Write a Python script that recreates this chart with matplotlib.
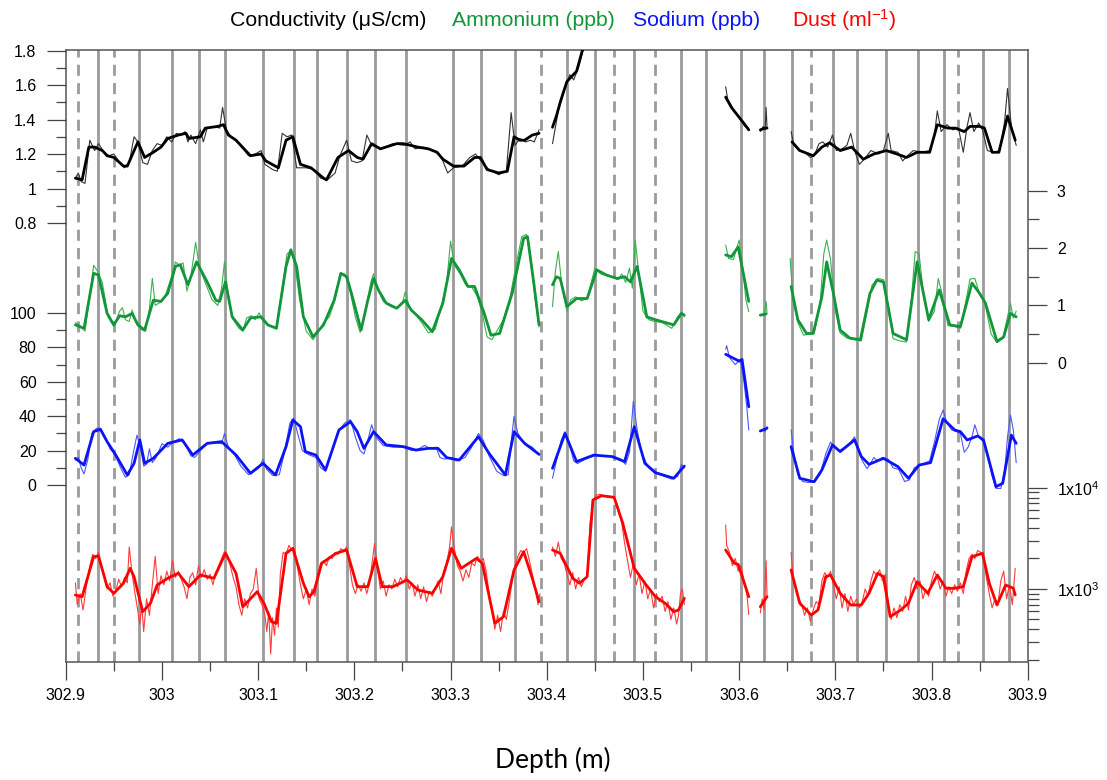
import numpy as np
import matplotlib
matplotlib.use("Agg")
import matplotlib.pyplot as plt
from matplotlib.ticker import NullFormatter

plt.rcParams['font.family'] = ['Liberation Sans', 'DejaVu Sans']
plt.rcParams['mathtext.fontset'] = 'custom'
plt.rcParams['mathtext.rm'] = 'Liberation Sans'
plt.rcParams['mathtext.it'] = 'Liberation Sans:italic'
plt.rcParams['lines.solid_joinstyle'] = 'round'
plt.rcParams['lines.solid_capstyle'] = 'round'

nan = np.nan

# annual layer markers (depth, m)
solid_lines = [302.934, 302.976, 303.010, 303.038, 303.066, 303.105, 303.137, 303.161,
               303.192, 303.221, 303.254, 303.303, 303.332, 303.367, 303.421, 303.450,
               303.491, 303.540, 303.566, 303.602, 303.626, 303.655, 303.698, 303.723,
               303.753, 303.786, 303.813, 303.853, 303.881]
dashed_lines = [302.913, 302.950, 303.394, 303.470, 303.513, 303.675, 303.828]

# Conductivity (uS/cm): smoothed and raw
cond_smooth = [
    (302.910, 1.06), (302.917, 1.05), (302.924, 1.24), (302.930, 1.24), (302.938, 1.22),
    (302.943, 1.19), (302.950, 1.18), (302.960, 1.13), (302.964, 1.13), (302.975, 1.27),
    (302.982, 1.18), (302.991, 1.21), (302.999, 1.24), (303.006, 1.29), (303.017, 1.31),
    (303.025, 1.32), (303.028, 1.29), (303.040, 1.30), (303.045, 1.35), (303.058, 1.36),
    (303.064, 1.37), (303.069, 1.31), (303.077, 1.28), (303.092, 1.19), (303.103, 1.20),
    (303.108, 1.16), (303.121, 1.12), (303.129, 1.28), (303.136, 1.30), (303.144, 1.14),
    (303.155, 1.12), (303.168, 1.06), (303.171, 1.05), (303.183, 1.18), (303.194, 1.22),
    (303.203, 1.18), (303.209, 1.17), (303.218, 1.26), (303.227, 1.23), (303.244, 1.26),
    (303.251, 1.26), (303.266, 1.24), (303.277, 1.23), (303.286, 1.21), (303.292, 1.17),
    (303.303, 1.13), (303.314, 1.13), (303.325, 1.18), (303.331, 1.18), (303.338, 1.11),
    (303.350, 1.09), (303.359, 1.10), (303.366, 1.30), (303.372, 1.28), (303.377, 1.28),
    (303.385, 1.31), (303.392, 1.32), (303.400, nan),
    (303.406, 1.355), (303.410, 1.42), (303.414, 1.50), (303.418, 1.57), (303.421, 1.62),
    (303.431, 1.68), (303.437, 1.80), (303.442, 1.90), (303.446, 1.98), (303.560, nan),
    (303.586, 1.53), (303.592, 1.47), (303.599, 1.42), (303.606, 1.37), (303.610, 1.34),
    (303.616, nan), (303.622, 1.34), (303.627, 1.35), (303.629, 1.35), (303.640, nan),
    (303.655, 1.27), (303.663, 1.22), (303.677, 1.19), (303.686, 1.24), (303.694, 1.265),
    (303.705, 1.22), (303.717, 1.24), (303.729, 1.17), (303.740, 1.20), (303.753, 1.22),
    (303.764, 1.20), (303.774, 1.18), (303.785, 1.21), (303.798, 1.21), (303.806, 1.37),
    (303.817, 1.35), (303.825, 1.35), (303.834, 1.33), (303.840, 1.36), (303.850, 1.36),
    (303.855, 1.35), (303.863, 1.21), (303.870, 1.21), (303.879, 1.42), (303.887, 1.28)]
cond_raw = [
    (302.910, 1.06), (302.913, 1.09), (302.916, 1.04), (302.920, 1.03), (302.925, 1.28),
    (302.930, 1.22), (302.934, 1.26), (302.940, 1.21), (302.945, 1.19), (302.950, 1.20),
    (302.955, 1.16), (302.961, 1.12), (302.966, 1.15), (302.971, 1.30), (302.975, 1.27),
    (302.980, 1.15), (302.985, 1.14), (302.990, 1.22), (302.995, 1.26), (303.000, 1.25),
    (303.005, 1.30), (303.010, 1.27), (303.015, 1.32), (303.020, 1.31), (303.024, 1.33),
    (303.027, 1.27), (303.030, 1.31), (303.035, 1.26), (303.040, 1.34), (303.043, 1.27),
    (303.047, 1.35), (303.055, 1.36), (303.060, 1.35), (303.063, 1.47), (303.067, 1.34),
    (303.072, 1.30), (303.080, 1.26), (303.090, 1.19), (303.097, 1.20), (303.103, 1.22),
    (303.107, 1.14), (303.115, 1.11), (303.120, 1.10), (303.125, 1.32), (303.130, 1.30),
    (303.135, 1.31), (303.140, 1.12), (303.150, 1.12), (303.158, 1.11), (303.165, 1.06),
    (303.172, 1.05), (303.180, 1.09), (303.185, 1.19), (303.192, 1.28), (303.197, 1.16),
    (303.203, 1.15), (303.208, 1.16), (303.213, 1.31), (303.218, 1.25), (303.228, 1.23),
    (303.240, 1.26), (303.252, 1.25), (303.258, 1.27), (303.263, 1.23), (303.272, 1.24),
    (303.282, 1.22), (303.288, 1.20), (303.292, 1.16), (303.297, 1.09), (303.303, 1.12),
    (303.312, 1.13), (303.320, 1.18), (303.326, 1.20), (303.333, 1.15), (303.340, 1.11),
    (303.350, 1.08), (303.358, 1.10), (303.363, 1.44), (303.367, 1.25), (303.372, 1.29),
    (303.378, 1.27), (303.383, 1.28), (303.387, 1.27), (303.392, 1.34), (303.400, nan),
    (303.406, 1.26), (303.412, 1.45), (303.420, 1.60), (303.424, 1.66), (303.428, 1.63),
    (303.433, 1.70), (303.440, 1.85), (303.445, 1.96), (303.560, nan),
    (303.586, 1.59), (303.588, 1.52), (303.594, 1.46), (303.600, 1.41), (303.606, 1.36),
    (303.610, 1.35), (303.616, nan), (303.622, 1.33), (303.625, 1.36), (303.627, 1.34),
    (303.628, 1.47), (303.629, 1.35), (303.640, nan),
    (303.654, 1.33), (303.657, 1.25), (303.662, 1.22), (303.668, 1.21), (303.674, 1.18),
    (303.678, 1.19), (303.683, 1.26), (303.687, 1.27), (303.692, 1.24), (303.697, 1.31),
    (303.701, 1.22), (303.707, 1.23), (303.712, 1.25), (303.716, 1.32), (303.720, 1.22),
    (303.725, 1.14), (303.730, 1.17), (303.737, 1.22), (303.745, 1.20), (303.750, 1.22),
    (303.755, 1.32), (303.758, 1.22), (303.765, 1.21), (303.770, 1.16), (303.775, 1.19),
    (303.781, 1.22), (303.790, 1.21), (303.798, 1.22), (303.803, 1.31), (303.806, 1.45),
    (303.810, 1.33), (303.816, 1.37), (303.822, 1.34), (303.828, 1.35), (303.833, 1.21),
    (303.837, 1.36), (303.840, 1.44), (303.844, 1.33), (303.849, 1.38), (303.853, 1.34),
    (303.858, 1.22), (303.865, 1.21), (303.871, 1.22), (303.876, 1.39), (303.879, 1.58),
    (303.883, 1.36), (303.888, 1.25)]

# Ammonium (right axis 0-3)
amm_smooth = [
    (302.910, 0.66), (302.919, 0.60), (302.929, 1.56), (302.934, 1.53), (302.943, 0.86),
    (302.950, 0.66), (302.956, 0.82), (302.962, 0.80), (302.969, 0.86), (302.975, 0.66),
    (302.982, 0.57), (302.991, 1.09), (302.999, 1.07), (303.006, 1.21), (303.014, 1.68),
    (303.019, 1.71), (303.027, 1.36), (303.036, 1.76), (303.047, 1.41), (303.056, 1.09),
    (303.060, 1.07), (303.066, 1.41), (303.073, 0.80), (303.084, 0.57), (303.092, 0.78),
    (303.103, 0.80), (303.110, 0.66), (303.119, 0.60), (303.129, 1.68), (303.134, 1.97),
    (303.140, 1.68), (303.147, 0.80), (303.157, 0.45), (303.168, 0.66), (303.179, 1.09),
    (303.186, 1.56), (303.192, 1.50), (303.197, 1.21), (303.207, 0.57), (303.214, 1.09),
    (303.220, 1.47), (303.225, 1.27), (303.233, 1.04), (303.244, 0.95), (303.253, 1.09),
    (303.259, 0.92), (303.270, 0.75), (303.281, 0.54), (303.292, 1.04), (303.301, 1.82),
    (303.309, 1.62), (303.318, 1.33), (303.325, 1.33), (303.335, 0.86), (303.342, 0.48),
    (303.351, 0.51), (303.364, 1.21), (303.376, 2.17), (303.380, 2.20), (303.387, 1.33),
    (303.392, 0.66), (303.400, nan),
    (303.406, 1.36), (303.410, 1.50), (303.414, 1.47), (303.421, 0.98), (303.431, 1.12),
    (303.442, 1.12), (303.452, 1.62), (303.462, 1.53), (303.473, 1.47), (303.481, 1.50),
    (303.487, 1.41), (303.494, 1.68), (303.504, 0.80), (303.513, 0.75), (303.532, 0.66),
    (303.540, 0.86), (303.543, 0.83), (303.560, nan),
    (303.586, 1.88), (303.592, 1.85), (303.599, 2.02), (303.610, 1.07), (303.616, nan),
    (303.622, 0.83), (303.628, 0.85), (303.640, nan),
    (303.654, 1.33), (303.661, 0.75), (303.670, 0.51), (303.677, 0.51), (303.686, 1.15),
    (303.691, 1.76), (303.698, 1.21), (303.705, 0.57), (303.715, 0.43), (303.726, 0.40),
    (303.736, 1.21), (303.743, 1.44), (303.750, 1.41), (303.760, 0.51), (303.774, 0.40),
    (303.785, 1.76), (303.797, 0.75), (303.808, 1.27), (303.819, 0.66), (303.830, 0.63),
    (303.842, 1.39), (303.850, 1.21), (303.856, 1.04), (303.868, 0.37), (303.875, 0.45),
    (303.882, 0.86), (303.888, 0.80)]
amm_raw = [
    (302.910, 0.70), (302.914, 0.66), (302.920, 0.55), (302.926, 1.30), (302.929, 1.70),
    (302.933, 1.60), (302.938, 1.40), (302.944, 0.80), (302.950, 0.63), (302.956, 0.90),
    (302.959, 0.96), (302.962, 0.75), (302.966, 0.72), (302.969, 0.92), (302.973, 0.70),
    (302.978, 0.58), (302.983, 0.55), (302.987, 0.95), (302.990, 1.47), (302.993, 1.00),
    (302.998, 1.05), (303.003, 1.15), (303.010, 1.50), (303.014, 1.76), (303.018, 1.70),
    (303.022, 1.74), (303.026, 1.25), (303.030, 1.50), (303.035, 2.10), (303.039, 1.65),
    (303.045, 1.40), (303.052, 1.10), (303.058, 1.00), (303.062, 1.30), (303.065, 1.76),
    (303.068, 1.30), (303.073, 0.78), (303.080, 0.60), (303.084, 0.55), (303.088, 0.78),
    (303.093, 0.82), (303.097, 0.75), (303.101, 0.87), (303.106, 0.70), (303.113, 0.64),
    (303.119, 0.62), (303.125, 1.30), (303.130, 1.90), (303.134, 1.95), (303.138, 1.75),
    (303.143, 1.10), (303.150, 0.55), (303.157, 0.40), (303.163, 0.55), (303.168, 0.70),
    (303.174, 0.80), (303.180, 1.10), (303.185, 1.55), (303.190, 1.55), (303.195, 1.30),
    (303.201, 0.80), (303.206, 0.53), (303.212, 0.95), (303.217, 1.40), (303.220, 1.55),
    (303.224, 1.30), (303.230, 1.07), (303.238, 0.98), (303.244, 0.95), (303.250, 1.05),
    (303.253, 1.24), (303.257, 0.98), (303.263, 0.85), (303.270, 0.70), (303.277, 0.52),
    (303.284, 0.58), (303.290, 0.95), (303.296, 1.40), (303.300, 2.12), (303.304, 1.70),
    (303.310, 1.55), (303.316, 1.35), (303.322, 1.32), (303.328, 1.15), (303.333, 0.85),
    (303.338, 0.45), (303.343, 0.40), (303.348, 0.55), (303.355, 0.75), (303.362, 1.15),
    (303.368, 1.70), (303.374, 2.20), (303.379, 2.24), (303.383, 1.90), (303.388, 1.10),
    (303.392, 0.62), (303.400, nan),
    (303.406, 0.98), (303.409, 1.60), (303.412, 1.94), (303.416, 1.30), (303.421, 0.90),
    (303.425, 1.10), (303.430, 1.15), (303.436, 1.08), (303.442, 1.12), (303.450, 1.65),
    (303.456, 1.55), (303.462, 1.52), (303.468, 1.50), (303.474, 1.45), (303.478, 1.55),
    (303.482, 1.40), (303.486, 1.65), (303.489, 1.30), (303.492, 2.14), (303.496, 1.50),
    (303.500, 0.90), (303.506, 0.75), (303.512, 0.72), (303.520, 0.70), (303.530, 0.60),
    (303.536, 0.80), (303.540, 0.88), (303.543, 0.80), (303.560, nan),
    (303.586, 2.05), (303.589, 1.82), (303.594, 1.80), (303.600, 2.14), (303.604, 1.60),
    (303.607, 1.10), (303.610, 0.89), (303.616, nan),
    (303.622, 0.82), (303.626, 0.83), (303.628, 1.07), (303.629, 0.86), (303.640, nan),
    (303.653, 1.82), (303.656, 1.10), (303.661, 0.70), (303.667, 0.48), (303.673, 0.50),
    (303.678, 0.52), (303.684, 1.00), (303.688, 1.90), (303.691, 2.14), (303.695, 1.80),
    (303.700, 0.90), (303.705, 0.52), (303.712, 0.43), (303.720, 0.40), (303.727, 0.38),
    (303.733, 0.90), (303.738, 1.35), (303.744, 1.47), (303.750, 1.45), (303.755, 1.00),
    (303.760, 0.42), (303.767, 0.38), (303.774, 0.36), (303.779, 1.10), (303.783, 1.94),
    (303.787, 1.90), (303.791, 1.30), (303.797, 0.72), (303.803, 0.90), (303.807, 1.47),
    (303.811, 1.20), (303.817, 0.65), (303.824, 0.63), (303.830, 0.60), (303.836, 1.10),
    (303.840, 1.46), (303.845, 1.47), (303.850, 1.20), (303.855, 1.08), (303.862, 0.50),
    (303.868, 0.35), (303.874, 0.42), (303.879, 0.80), (303.882, 1.04), (303.885, 0.78),
    (303.888, 0.90)]

# Sodium (ppb, left axis 0-100)
na_smooth = [
    (302.910, 15.5), (302.919, 11.6), (302.929, 31.0), (302.936, 32.4), (302.943, 25.2),
    (302.952, 17.4), (302.964, 5.8), (302.971, 12.6), (302.977, 26.2), (302.982, 12.6),
    (302.991, 15.5), (303.006, 24.2), (303.021, 26.2), (303.032, 17.4), (303.047, 24.2),
    (303.062, 25.2), (303.077, 17.4), (303.092, 6.8), (303.105, 12.6), (303.118, 5.8),
    (303.129, 22.3), (303.136, 37.8), (303.144, 33.9), (303.149, 19.4), (303.160, 17.4),
    (303.170, 8.7), (303.184, 32.0), (303.196, 36.8), (303.203, 31.0), (303.210, 21.3),
    (303.220, 31.0), (303.233, 23.3), (303.251, 22.3), (303.264, 20.3), (303.277, 21.3),
    (303.287, 21.3), (303.296, 15.9), (303.309, 14.5), (303.329, 28.1), (303.340, 18.4),
    (303.357, 5.8), (303.366, 31.0), (303.377, 24.2), (303.392, 17.8), (303.400, nan),
    (303.406, 9.7), (303.419, 30.0), (303.431, 13.6), (303.449, 17.4), (303.468, 16.5),
    (303.481, 13.6), (303.491, 33.9), (303.502, 12.6), (303.513, 7.2), (303.532, 3.9),
    (303.543, 11.0), (303.560, nan),
    (303.586, 76.0), (303.600, 72.0), (303.603, 73.0), (303.610, 45.5), (303.616, nan),
    (303.622, 31.4), (303.629, 33.0), (303.640, nan),
    (303.654, 22.3), (303.663, 3.9), (303.678, 1.9), (303.686, 8.7), (303.697, 23.3),
    (303.705, 19.4), (303.720, 26.2), (303.727, 16.5), (303.735, 12.0), (303.750, 15.5),
    (303.765, 10.7), (303.776, 3.9), (303.787, 11.6), (303.799, 13.0), (303.812, 38.5),
    (303.824, 32.0), (303.830, 31.0), (303.837, 26.2), (303.848, 28.5), (303.854, 26.2),
    (303.867, -1.0), (303.874, 1.0), (303.883, 29.0), (303.888, 24.2)]
na_raw = [
    (302.910, 14.5), (302.913, 16.0), (302.916, 10.0), (302.919, 6.4), (302.923, 15.0),
    (302.927, 30.0), (302.932, 33.0), (302.936, 33.0), (302.941, 28.0), (302.946, 21.0),
    (302.951, 18.0), (302.957, 10.0), (302.962, 4.5), (302.966, 6.0), (302.970, 18.0),
    (302.974, 29.0), (302.978, 21.0), (302.981, 11.0), (302.984, 12.0), (302.987, 21.0),
    (302.990, 13.0), (302.994, 16.0), (303.000, 24.0), (303.006, 22.0), (303.012, 25.0),
    (303.018, 27.0), (303.024, 24.0), (303.030, 17.0), (303.034, 16.0), (303.040, 20.0),
    (303.047, 24.0), (303.055, 24.5), (303.062, 24.0), (303.065, 30.0), (303.069, 22.0),
    (303.075, 18.0), (303.082, 11.0), (303.090, 6.0), (303.096, 8.0), (303.101, 10.0),
    (303.105, 15.0), (303.109, 9.0), (303.115, 5.5), (303.122, 6.0), (303.127, 18.0),
    (303.133, 36.0), (303.137, 39.0), (303.141, 30.0), (303.146, 20.0), (303.153, 17.5),
    (303.160, 16.0), (303.165, 10.0), (303.170, 8.0), (303.176, 18.0), (303.183, 31.0),
    (303.190, 36.0), (303.196, 38.0), (303.201, 28.0), (303.206, 20.0), (303.210, 18.0),
    (303.214, 26.0), (303.218, 35.0), (303.222, 28.0), (303.230, 23.0), (303.240, 22.0),
    (303.250, 22.0), (303.260, 20.0), (303.267, 21.0), (303.273, 23.0), (303.279, 21.0),
    (303.285, 22.0), (303.289, 16.0), (303.294, 15.0), (303.300, 16.0), (303.306, 14.0),
    (303.315, 16.0), (303.322, 22.0), (303.329, 30.0), (303.334, 26.0), (303.340, 17.0),
    (303.348, 8.0), (303.355, 5.5), (303.360, 6.0), (303.363, 25.0), (303.366, 40.0),
    (303.370, 30.0), (303.377, 24.0), (303.385, 22.0), (303.392, 17.5), (303.400, nan),
    (303.406, 3.9), (303.410, 14.0), (303.415, 26.0), (303.419, 31.0), (303.423, 25.0),
    (303.428, 14.0), (303.432, 12.5), (303.440, 15.0), (303.450, 17.0), (303.460, 17.0),
    (303.470, 16.5), (303.477, 15.0), (303.482, 12.0), (303.486, 19.0), (303.490, 48.8),
    (303.494, 32.0), (303.499, 18.0), (303.506, 10.0), (303.512, 7.0), (303.520, 5.5),
    (303.530, 3.5), (303.536, 5.0), (303.540, 12.0), (303.543, 10.0), (303.560, nan),
    (303.586, 79.0), (303.587, 81.0), (303.590, 74.0), (303.596, 70.0), (303.601, 73.0),
    (303.605, 60.0), (303.608, 45.0), (303.610, 32.0), (303.616, nan),
    (303.622, 31.0), (303.625, 32.0), (303.627, 31.0), (303.629, 34.0), (303.640, nan),
    (303.654, 32.0), (303.657, 18.0), (303.661, 6.0), (303.666, 2.0), (303.672, 1.5),
    (303.678, 1.5), (303.684, 6.0), (303.690, 18.0), (303.695, 25.0), (303.699, 22.0),
    (303.704, 20.0), (303.710, 22.0), (303.716, 25.0), (303.720, 28.0), (303.724, 20.0),
    (303.728, 14.0), (303.733, 9.5), (303.737, 13.0), (303.740, 16.0), (303.744, 14.0),
    (303.749, 16.0), (303.755, 15.0), (303.760, 10.0), (303.766, 9.0), (303.772, 2.0),
    (303.777, 3.0), (303.782, 10.0), (303.790, 12.0), (303.798, 14.0), (303.803, 25.0),
    (303.808, 38.0), (303.812, 43.6), (303.816, 36.0), (303.821, 32.0), (303.826, 31.0),
    (303.830, 30.0), (303.834, 19.0), (303.838, 22.0), (303.842, 28.0), (303.845, 35.0),
    (303.849, 28.0), (303.854, 25.0), (303.858, 18.0), (303.863, 5.0), (303.867, -2.0),
    (303.872, -2.0), (303.876, 8.0), (303.879, 28.0), (303.882, 40.7), (303.885, 32.0),
    (303.888, 13.0)]

# Dust (particles per ml, log axis)
dust_smooth = [
    (302.910, 873), (302.917, 839), (302.929, 2084), (302.934, 2120), (302.943, 1054),
    (302.950, 907), (302.960, 1139), (302.967, 1600), (302.971, 1322), (302.980, 597),
    (302.988, 723), (302.995, 1095), (303.006, 1276), (303.017, 1430), (303.028, 1054),
    (303.040, 1375), (303.054, 1276), (303.066, 2250), (303.077, 1430), (303.084, 668),
    (303.099, 940), (303.106, 723), (303.114, 475), (303.119, 458), (303.129, 2250),
    (303.136, 2523), (303.147, 1139), (303.153, 839), (303.158, 940), (303.166, 1794),
    (303.181, 2250), (303.192, 2427), (303.203, 1054), (303.214, 1054), (303.222, 2000),
    (303.229, 1054), (303.240, 1054), (303.255, 1228), (303.266, 977), (303.281, 907),
    (303.292, 1322), (303.301, 2523), (303.311, 1600), (303.327, 2009), (303.333, 1794),
    (303.346, 458), (303.355, 533), (303.366, 1542), (303.376, 2333), (303.385, 1276),
    (303.392, 750), (303.400, nan),
    (303.406, 2427), (303.414, 2250), (303.427, 1276), (303.434, 1139), (303.442, 1322),
    (303.448, 7568), (303.457, 8337), (303.470, 8031), (303.479, 4460), (303.491, 1600),
    (303.502, 1139), (303.513, 839), (303.523, 723), (303.532, 597), (303.537, 621),
    (303.543, 809), (303.560, nan),
    (303.586, 2427), (303.595, 1794), (303.599, 1750), (303.610, 839), (303.616, nan),
    (303.622, 668), (303.629, 839), (303.640, nan),
    (303.654, 1542), (303.663, 723), (303.675, 553), (303.682, 621), (303.690, 1322),
    (303.695, 1375), (303.705, 908), (303.716, 695), (303.727, 695), (303.735, 908),
    (303.744, 1430), (303.750, 1322), (303.757, 533), (303.768, 621), (303.776, 723),
    (303.785, 1180), (303.796, 908), (303.806, 1375), (303.815, 1016), (303.824, 1016),
    (303.833, 1054), (303.842, 2084), (303.853, 2250), (303.860, 1139), (303.868, 695),
    (303.877, 1095), (303.885, 1016), (303.887, 873)]
dust_raw = [
    (302.910, 1150), (302.912, 700), (302.915, 900), (302.918, 620), (302.921, 1000),
    (302.925, 1700), (302.928, 2200), (302.931, 2000), (302.934, 2300), (302.937, 1700),
    (302.940, 1300), (302.943, 1000), (302.946, 1150), (302.949, 850), (302.952, 950),
    (302.955, 1250), (302.958, 1050), (302.961, 1300), (302.964, 1150), (302.966, 2600),
    (302.969, 1400), (302.972, 900), (302.975, 600), (302.977, 450), (302.979, 700),
    (302.981, 380), (302.984, 800), (302.987, 550), (302.990, 1100), (302.993, 2100),
    (302.996, 900), (302.999, 1350), (303.002, 1100), (303.005, 1500), (303.008, 1200),
    (303.011, 1900), (303.014, 1300), (303.017, 1500), (303.020, 1250), (303.023, 1050),
    (303.026, 800), (303.029, 1300), (303.032, 1450), (303.035, 1100), (303.038, 1700),
    (303.041, 1300), (303.044, 1550), (303.047, 1250), (303.050, 1400), (303.053, 1100),
    (303.056, 1450), (303.059, 1700), (303.062, 2000), (303.065, 2350), (303.068, 2200),
    (303.071, 1700), (303.074, 1300), (303.077, 1050), (303.080, 700), (303.083, 550),
    (303.086, 800), (303.089, 650), (303.092, 900), (303.095, 1000), (303.098, 1600),
    (303.101, 800), (303.104, 700), (303.107, 550), (303.109, 380), (303.111, 600),
    (303.113, 230), (303.115, 520), (303.117, 350), (303.119, 650), (303.121, 420),
    (303.123, 1400), (303.126, 2300), (303.129, 2200), (303.132, 2700), (303.135, 2400),
    (303.138, 2500), (303.141, 1600), (303.144, 1100), (303.147, 800), (303.150, 1000),
    (303.153, 700), (303.156, 1000), (303.159, 850), (303.162, 1400), (303.165, 1800),
    (303.168, 1900), (303.171, 1700), (303.174, 2100), (303.177, 2000), (303.180, 2300),
    (303.183, 2200), (303.186, 2500), (303.189, 2400), (303.192, 2600), (303.195, 1700),
    (303.198, 1100), (303.201, 900), (303.204, 1100), (303.207, 950), (303.210, 1150),
    (303.213, 900), (303.216, 1200), (303.219, 2000), (303.221, 2800), (303.224, 1600),
    (303.227, 1000), (303.230, 1200), (303.233, 850), (303.236, 1100), (303.239, 1000),
    (303.242, 1250), (303.245, 1050), (303.248, 1300), (303.251, 1150), (303.254, 1350),
    (303.257, 1000), (303.260, 1150), (303.263, 850), (303.266, 1100), (303.269, 800),
    (303.272, 1050), (303.275, 750), (303.278, 950), (303.281, 850), (303.284, 1000),
    (303.287, 1200), (303.290, 900), (303.293, 1500), (303.296, 1800), (303.299, 2600),
    (303.301, 4100), (303.304, 2500), (303.307, 1700), (303.310, 1500), (303.313, 1200),
    (303.316, 1550), (303.319, 1300), (303.322, 1800), (303.325, 1700), (303.328, 2100),
    (303.331, 1900), (303.334, 2000), (303.337, 1500), (303.340, 900), (303.343, 650),
    (303.346, 400), (303.349, 550), (303.352, 380), (303.355, 600), (303.358, 500),
    (303.361, 750), (303.364, 1200), (303.367, 1700), (303.370, 2100), (303.373, 2400),
    (303.376, 2300), (303.379, 2500), (303.382, 1900), (303.385, 1400), (303.388, 1000),
    (303.391, 700), (303.393, 900), (303.400, nan),
    (303.406, 2600), (303.409, 2100), (303.412, 2900), (303.415, 2000), (303.418, 1800),
    (303.421, 1400), (303.424, 1100), (303.427, 1450), (303.430, 1000), (303.433, 1300),
    (303.436, 1050), (303.439, 1250), (303.442, 1300), (303.445, 4500), (303.448, 7300),
    (303.451, 8400), (303.455, 8600), (303.460, 8300), (303.465, 8200), (303.470, 8100),
    (303.474, 6500), (303.478, 4500), (303.481, 2800), (303.484, 1900), (303.487, 1300),
    (303.490, 1800), (303.493, 1100), (303.496, 1400), (303.499, 900), (303.502, 1200),
    (303.505, 800), (303.508, 1000), (303.511, 650), (303.514, 900), (303.517, 750),
    (303.520, 850), (303.523, 600), (303.526, 750), (303.529, 500), (303.532, 650),
    (303.535, 450), (303.537, 550), (303.539, 900), (303.541, 1000), (303.543, 700),
    (303.560, nan),
    (303.586, 4285), (303.587, 2700), (303.590, 2300), (303.593, 1700), (303.596, 2000),
    (303.599, 1500), (303.602, 1700), (303.605, 1200), (303.608, 900), (303.610, 560),
    (303.616, nan),
    (303.622, 580), (303.624, 800), (303.626, 620), (303.628, 1900), (303.629, 850),
    (303.640, nan),
    (303.654, 2300), (303.656, 1300), (303.659, 1000), (303.662, 800), (303.665, 700),
    (303.668, 550), (303.671, 650), (303.674, 480), (303.677, 620), (303.680, 750),
    (303.683, 700), (303.686, 1200), (303.689, 1450), (303.692, 1300), (303.695, 1500),
    (303.698, 1100), (303.701, 800), (303.704, 1050), (303.707, 650), (303.710, 900),
    (303.713, 600), (303.716, 850), (303.719, 700), (303.722, 800), (303.725, 650),
    (303.728, 750), (303.731, 1000), (303.734, 850), (303.737, 1200), (303.740, 1500),
    (303.743, 1350), (303.746, 1550), (303.749, 1200), (303.752, 1400), (303.755, 700),
    (303.758, 500), (303.761, 650), (303.764, 520), (303.767, 700), (303.770, 600),
    (303.773, 850), (303.776, 620), (303.779, 1100), (303.782, 1300), (303.785, 1000),
    (303.788, 1200), (303.791, 800), (303.794, 1000), (303.797, 850), (303.800, 1200),
    (303.803, 1500), (303.806, 1300), (303.809, 1000), (303.812, 1200), (303.815, 850),
    (303.818, 1050), (303.821, 900), (303.824, 1100), (303.827, 950), (303.830, 1150),
    (303.833, 900), (303.836, 1500), (303.839, 2000), (303.842, 2200), (303.845, 2000),
    (303.848, 2400), (303.851, 2300), (303.854, 2100), (303.857, 1300), (303.860, 900),
    (303.863, 650), (303.866, 800), (303.869, 700), (303.872, 1200), (303.875, 1500),
    (303.878, 800), (303.881, 1100), (303.884, 700), (303.887, 1600)]

x_ticks = [302.9, 303.0, 303.1, 303.2, 303.3, 303.4, 303.5, 303.6, 303.7, 303.8, 303.9]
x_labels = ['302.9', '303', '303.1', '303.2', '303.3', '303.4', '303.5', '303.6', '303.7', '303.8', '303.9']
cond_ticks = [0.8, 1.0, 1.2, 1.4, 1.6, 1.8]
cond_labels = ['0.8', '1', '1.2', '1.4', '1.6', '1.8']
na_ticks = [0, 20, 40, 60, 80, 100]
amm_ticks = [0, 1, 2, 3]
dust_ticks = [1e3, 1e4]
dust_labels = ['1x10$^3$', '1x10$^4$']


def xy(pairs):
    a = np.array(pairs, dtype=float)
    return a[:, 0], a[:, 1]


fig = plt.figure(figsize=(11.07, 7.80), dpi=100)
ax = fig.add_axes([0.0594, 0.1513, 0.8690, 0.7846])
ax.set_xlim(302.9, 303.9)
ax.set_ylim(0, 1)
ax.set_yticks([])
for s in ax.spines.values():
    s.set_color('#555555')
    s.set_linewidth(1.1)

for d in solid_lines:
    ax.axvline(d, color='#9b9b9b', lw=2.0, zorder=1)
for d in dashed_lines:
    ax.axvline(d, color='#9b9b9b', lw=2.0, ls=(0, (4, 2.6)), zorder=1)

ax.set_xticks(x_ticks, labels=x_labels)
ax.set_xticks(np.arange(302.95, 303.9, 0.1), minor=True)
ax.tick_params(axis='x', which='major', direction='out', length=13, width=0.9,
               color='#444444', pad=6, labelsize=11.5)
ax.tick_params(axis='x', which='minor', direction='out', length=6.5, width=0.9, color='#444444')

tick_kw = dict(direction='out', width=0.9, color='#444444')


def make_twin(side, lim):
    t = ax.twinx()
    t.set_ylim(*lim)
    for s in t.spines.values():
        s.set_visible(False)
    if side == 'left':
        t.yaxis.tick_left()
    else:
        t.yaxis.tick_right()
    t.tick_params(axis='y', which='major', length=14, pad=7, labelsize=11.5, **tick_kw)
    t.tick_params(axis='y', which='minor', length=7, **tick_kw)
    return t


# conductivity (left, top)
ax_c = make_twin('left', (-1.745, 1.803))
ax_c.set_yticks(cond_ticks, labels=cond_labels)
ax_c.set_yticks([0.9, 1.1, 1.3, 1.5, 1.7], minor=True)
d, v = xy(cond_raw)
ax_c.plot(d, v, color='#333333', lw=0.8)
d, v = xy(cond_smooth)
ax_c.plot(d, v, color='black', lw=2.0)

# sodium (left, middle)
ax_n = make_twin('left', (-102.9, 252.9))
ax_n.set_yticks(na_ticks, labels=[str(t) for t in na_ticks])
ax_n.set_yticks([10, 30, 50, 70, 90], minor=True)
d, v = xy(na_raw)
ax_n.plot(d, v, color='#4d55ff', lw=0.8)
d, v = xy(na_smooth)
ax_n.plot(d, v, color='#0a14f5', lw=2.0)

# ammonium (right)
ax_a = make_twin('right', (-5.223, 5.457))
ax_a.set_yticks(amm_ticks, labels=[str(t) for t in amm_ticks])
ax_a.set_yticks([0.5, 1.5, 2.5], minor=True)
ax_a.tick_params(axis='y', which='minor', length=8)
d, v = xy(amm_raw)
ax_a.plot(d, v, color='#3cb050', lw=0.8)
d, v = xy(amm_smooth)
ax_a.plot(d, v, color='#12963a', lw=2.0)

# dust (right, log)
ax_d = make_twin('right', (10 ** 2.2794, 10 ** 8.321))
ax_d.set_yscale('log')
ax_d.set_ylim(10 ** 2.2794, 10 ** 8.321)
ax_d.set_yticks(dust_ticks, labels=dust_labels)
ax_d.set_yticks([200, 300, 400, 500, 600, 700, 800, 900,
                 2000, 3000, 4000, 5000, 6000, 7000, 8000, 9000], minor=True)
ax_d.yaxis.set_minor_formatter(NullFormatter())
ax_d.tick_params(axis='y', which='minor', length=8)
d, v = xy(dust_raw)
ax_d.plot(d, v, color='#ff3b3b', lw=0.8)
d, v = xy(dust_smooth)
ax_d.plot(d, v, color='#ff0000', lw=2.0)

# header labels
ty = 1 - 20 / 780
fig.text(230 / 1107, ty, 'Conductivity (\u03bcS/cm)', color='black', fontsize=15.3, va='center')
fig.text(452 / 1107, ty, 'Ammonium (ppb)', color='#12963a', fontsize=15.3, va='center')
fig.text(633 / 1107, ty, 'Sodium (ppb)', color='#0a14f5', fontsize=15.3, va='center')
fig.text(792 / 1107, ty, 'Dust (ml$^{-1}$)', color='#ff0000', fontsize=15.3, va='center')

fig.text(553 / 1107, 1 - 760 / 780, 'Depth (m)', fontsize=19, family='Lato',
         ha='center', va='center')

fig.savefig('out.png', dpi=100)
